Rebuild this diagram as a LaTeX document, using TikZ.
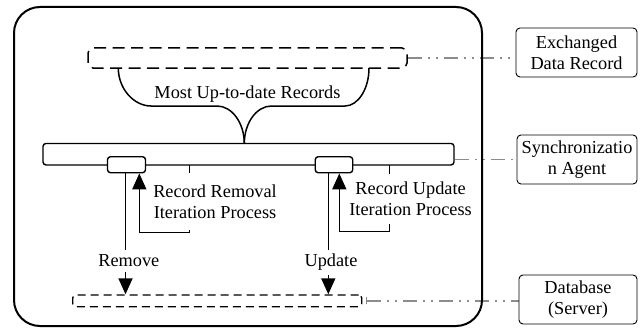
\documentclass[tikz,border=0pt]{standalone}
\usepackage{fontspec}
\setmainfont{Liberation Serif}
\usetikzlibrary{arrows.meta,backgrounds}
\definecolor{conngray}{RGB}{140,140,140}
\begin{document}
\begin{tikzpicture}[x=1pt,y=-1pt,
  every node/.style={font=\fontsize{18.3}{21}\selectfont},
  box/.style={draw, line width=1.4pt, rounded corners=3pt, inner sep=0pt},
  dbox/.style={draw, line width=1.5pt, dash pattern=on 12pt off 6.5pt, rounded corners=5pt, inner sep=0pt},
  sdbox/.style={draw, line width=1.4pt, dash pattern=on 8pt off 5pt, rounded corners=3pt, inner sep=0pt},
  lbl/.style={draw, line width=0.9pt, rounded corners=4pt, align=center, inner xsep=2pt, inner ysep=0pt, minimum height=49pt},
  conn/.style={draw=conngray, line width=1.6pt, dash pattern=on 14pt off 6pt on 2pt off 6pt on 2pt off 6pt},
  arr/.style={line width=1.6pt, -{Triangle[width=14pt,length=16pt]}},
  plain/.style={line width=1.5pt},
  wlabel/.style={fill=white, inner xsep=2pt, align=center}
]
\useasboundingbox (0,0) rectangle (644,329);

% main shapes
\node[draw, line width=2pt, rounded corners=26pt, minimum width=468pt, minimum height=319pt, inner sep=0pt] (outer) at (248,166.5) {};
\node[dbox, minimum width=319pt, minimum height=20pt] (exch) at (247.5,58) {};
\node[box, minimum width=411pt, minimum height=21.5pt] (agent) at (248.5,154.2) {};
\node[box, fill=white, minimum width=38pt, minimum height=16pt] (rm) at (126.5,164.7) {};
\node[box, fill=white, minimum width=37.5pt, minimum height=16pt] (up) at (334,164.7) {};
\node[sdbox, minimum width=289pt, minimum height=11.7pt] (db) at (217.2,300.85) {};

% right-hand labels
\node[lbl, minimum width=121pt] (exchL) at (576.5,52.5) {Exchanged\\Data Record};
\node[lbl, minimum width=120pt] (syncL) at (577,159.5) {Synchronizatio\\n Agent};
\node[lbl, minimum width=118pt] (dbL) at (578,299.5) {Database\\(Server)};

% gray connectors behind
\begin{pgfonlayer}{background}
\fill[white] (0,0) rectangle (644,329);
\draw[conn] (exch.east) -- (exch.east -| exchL.west);
\draw[conn] (syncL.west -| agent.east) -- (syncL.west);
\coordinate (dbs) at ([xshift=3.5pt]db.east);
\draw[conn, {Bar[width=7pt,line width=1.4pt]}-] (dbs) -- (dbs -| dbL.west);
\end{pgfonlayer}

% brace
\coordinate (bL) at (118.3,68);
\coordinate (bR) at (369,68);
\coordinate (bT) at (244.3,143.5);
\draw[plain] (bL) .. controls (118.3,89) and (134,106) .. (151,106) -- (217,106) .. controls (232,106) and (244.3,123) .. (bT);
\draw[plain] (bR) .. controls (369,89) and (358,106) .. (345,106) -- (271.5,106) .. controls (256.5,106) and (244.3,123) .. (bT);
\node[inner sep=0pt, anchor=base] (most) at (247.5,98.3) {Most Up-to-date Records};

% remove / update arrows
\coordinate (rmx) at (125.5,0);
\coordinate (upx) at (328.3,0);
\draw[arr] (rm.south -| rmx) -- (db.north -| rmx);
\draw[arr] (up.south -| upx) -- (db.north -| upx);
\node[wlabel, inner ysep=4.8pt, anchor=base] (remove) at (128.8,266.7) {Remove};
\node[wlabel, inner ysep=4.3pt, anchor=base] (update) at (331,266.7) {Update};

% iteration processes
\coordinate (t1) at (189.3,165);
\coordinate (c1) at (139.3,232.3);
\draw[arr] (t1) |- (c1) -- (c1 |- rm.south);
\coordinate (t2) at (389.3,165);
\coordinate (c2) at (339.3,231.3);
\draw[arr] (t2) |- (c2) -- (c2 |- up.south);
\node[wlabel, inner ysep=11.5pt, anchor=north] (iter1) at (215,172.7) {Record Removal\\Iteration Process};
\node[wlabel, inner ysep=8pt, anchor=north] (iter2) at (410.6,174) {Record Update\\Iteration Process};
\end{tikzpicture}
\end{document}
